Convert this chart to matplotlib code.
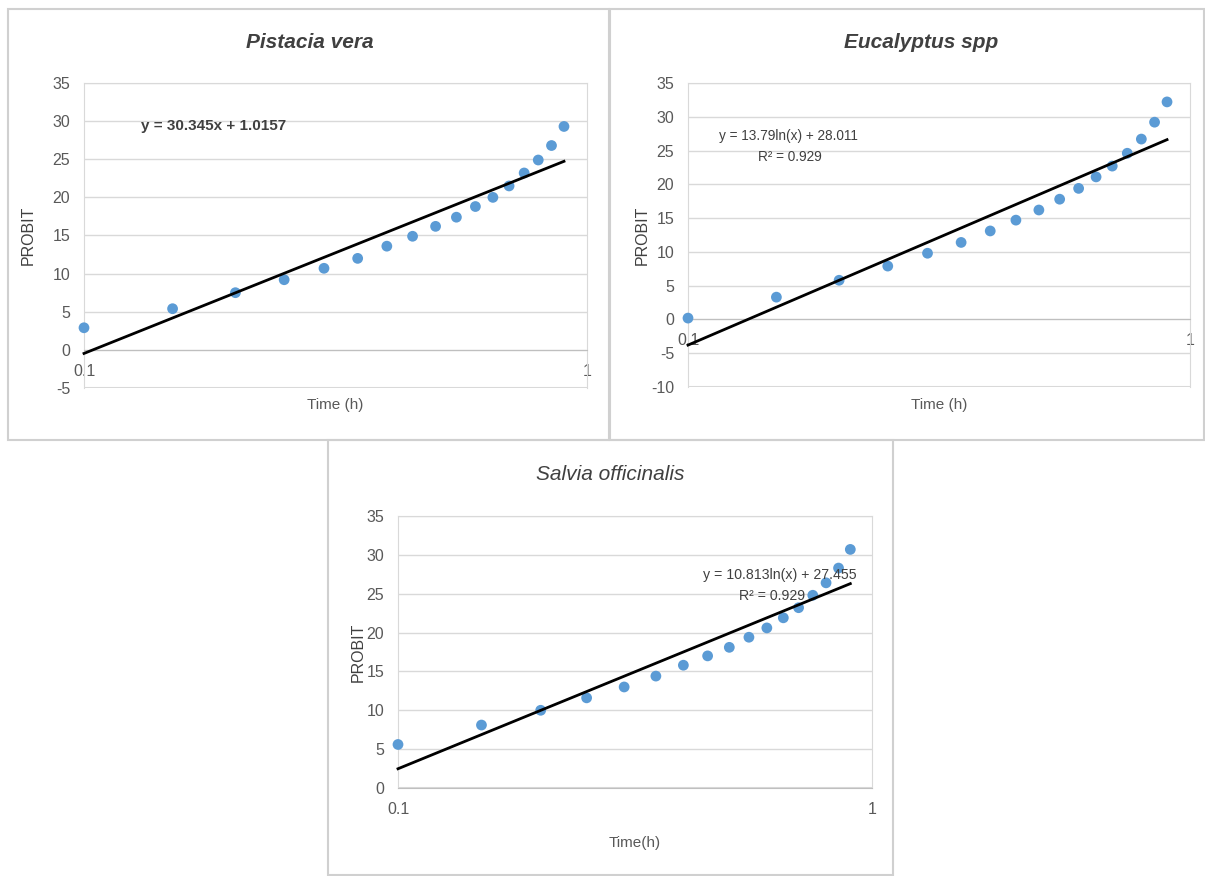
import numpy as np
import matplotlib.pyplot as plt
from matplotlib.patches import Rectangle

plt.rcParams['axes.unicode_minus'] = False
plt.rcParams['font.family'] = ['Liberation Sans', 'DejaVu Sans']

# time points (h), shared by the three species
time_h = [0.1, 0.15, 0.2, 0.25, 0.3, 0.35, 0.4, 0.45, 0.5,
          0.55, 0.6, 0.65, 0.7, 0.75, 0.8, 0.85, 0.9]

pistacia = [2.9, 5.4, 7.5, 9.2, 10.7, 12.0, 13.6, 14.9, 16.2,
            17.4, 18.8, 20.0, 21.5, 23.2, 24.9, 26.8, 29.3]
eucalyptus = [0.2, 3.3, 5.8, 7.9, 9.8, 11.4, 13.1, 14.7, 16.2,
              17.8, 19.4, 21.1, 22.7, 24.6, 26.7, 29.2, 32.2]
salvia = [5.6, 8.1, 10.0, 11.6, 13.0, 14.4, 15.8, 17.0, 18.1,
          19.4, 20.6, 21.9, 23.2, 24.8, 26.4, 28.3, 30.7]

titles = ["Pistacia vera", "Eucalyptus spp", "Salvia officinalis"]
eq_texts = [["y = 30.345x + 1.0157"],
            ["y = 13.79ln(x) + 28.011", "R² = 0.929"],
            ["y = 10.813ln(x) + 27.455", "R² = 0.929"]]
xlabels = ["Time (h)", "Time (h)", "Time(h)"]
yranges = [(-5, 35), (-10, 35), (0, 35)]

blue = '#5B9BD5'
grid_c = '#d9d9d9'
text_c = '#595959'
dark = '#404040'

W, H = 1205, 876
fig = plt.figure(figsize=(W / 100, H / 100), dpi=100)

def fx(px):
    return px / W

def fy(py):
    return 1 - py / H

# panel frames (pixel boxes)
panels = [(8, 9, 609, 440), (610, 9, 1204, 440), (328, 440, 893, 875)]
for x0, y0, x1, y1 in panels:
    fig.patches.append(Rectangle((fx(x0), fy(y1)), fx(x1 - x0), (y1 - y0) / H,
                                 transform=fig.transFigure, fill=False,
                                 edgecolor='#d0d0d0', linewidth=1.5))

# plot areas: left, top, right, bottom in pixels
areas = [(84, 83, 587, 388), (688, 83, 1190, 387), (398, 516, 872, 788)]
series = [pistacia, eucalyptus, salvia]

for i in range(3):
    l, t, r, b = areas[i]
    ax = fig.add_axes([fx(l), fy(b), fx(r - l), (b - t) / H])
    ymin, ymax = yranges[i]
    ys = series[i]

    ax.set_xscale('log')
    ax.set_xlim(0.1, 1)
    ax.set_ylim(ymin, ymax)
    ax.set_yticks(np.arange(ymin, ymax + 1, 5))
    ax.set_xticks([0.1, 1])
    ax.set_xticklabels(['0.1', '1'])
    ax.minorticks_off()
    ax.tick_params(length=0, colors=text_c, labelsize=11.5)
    ax.tick_params(axis='y', pad=10)
    ax.tick_params(axis='x', pad=10)

    for y in np.arange(ymin, ymax + 1, 5):
        ax.axhline(y, color=grid_c, lw=1, zorder=0)
    for s in ['top', 'left', 'right']:
        ax.spines[s].set_color(grid_c)
    ax.spines['bottom'].set_position(('data', 0))
    ax.spines['bottom'].set_color('#bfbfbf')
    ax.axhline(ymin, color=grid_c, lw=1.5, zorder=0)

    ax.scatter(time_h, ys, s=60, color=blue, zorder=3, edgecolors='none',
               clip_on=False)

    # log trendline fitted to the points
    a, c = np.polyfit(np.log(time_h), ys, 1)
    xt = np.array([time_h[0], time_h[-1]])
    ax.plot(xt, a * np.log(xt) + c, color='black', lw=2, zorder=4,
            clip_on=False)

# titles
fig.text(fx(310), fy(42), titles[0], ha='center', va='center', fontsize=15,
         style='italic', weight='bold', color=dark)
fig.text(fx(921), fy(42), titles[1], ha='center', va='center', fontsize=15,
         style='italic', weight='bold', color=dark)
fig.text(fx(610), fy(475), titles[2], ha='center', va='center', fontsize=15,
         style='italic', color=dark)

# axis labels
for (l, t, r, b), xl, xpos, ypos in zip(areas, xlabels,
                                         [28, 642, 358], [405, 405, 843]):
    fig.text(fx(xpos), fy((t + b) / 2), 'PROBIT', rotation=90, ha='center',
             va='center', fontsize=11.5, color=dark)
    fig.text(fx((l + r) / 2), fy(ypos), xl, ha='center', va='center',
             fontsize=11, color=text_c)

# trendline equations
fig.text(fx(214), fy(126), eq_texts[0][0], ha='center', va='center',
         fontsize=11, weight='bold', color=dark)
fig.text(fx(788), fy(136), eq_texts[1][0], ha='center', va='center',
         fontsize=9.8, color=dark)
fig.text(fx(790), fy(157), eq_texts[1][1], ha='center', va='center',
         fontsize=9.8, color=dark)
fig.text(fx(780), fy(575), eq_texts[2][0], ha='center', va='center',
         fontsize=10.2, color=dark)
fig.text(fx(772), fy(596), eq_texts[2][1], ha='center', va='center',
         fontsize=10.2, color=dark)

fig.savefig('out.png', dpi=100)
